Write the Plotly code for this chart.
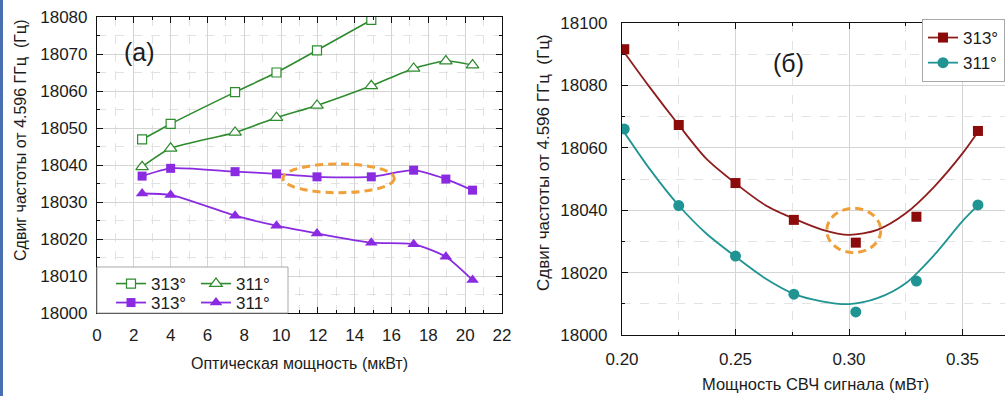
import plotly.graph_objects as go

# ---------------- data: panel (a) ----------------
opt_power = [2.45, 4.0, 7.5, 9.75, 11.95, 14.9, 17.2, 18.95, 20.4]
green_313 = [18046.9, 18051.1, 18059.7, 18065.0, 18071.0, 18079.2]
green_311 = [18039.5, 18044.5, 18048.8, 18052.8, 18056.1, 18061.4, 18066.1, 18068.1, 18067.0]
violet_313 = [18037.0, 18039.1, 18038.2, 18037.6, 18036.8, 18036.8, 18038.6, 18036.2, 18033.2]
violet_311 = [18032.3, 18031.9, 18026.3, 18023.6, 18021.5, 18019.0, 18018.6, 18015.2, 18008.9]

# ---------------- data: panel (б) ----------------
mw_power = [0.201, 0.225, 0.250, 0.2757, 0.303, 0.3297, 0.3568]
red_313 = [18091.6, 18067.3, 18048.7, 18036.9, 18029.6, 18037.9, 18065.4]
teal_311 = [18066.0, 18041.5, 18025.3, 18013.1, 18007.4, 18017.3, 18041.7]

# fitted curves
fit_x = [0.200, 0.212, 0.225, 0.237, 0.250, 0.263, 0.276, 0.288, 0.300,
         0.3125, 0.325, 0.3375, 0.350, 0.357]
fit_313 = [18091.6, 18079.6, 18067.3, 18056.6, 18048.6, 18041.7, 18037.2, 18033.8, 18032.1,
           18033.7, 18039.0, 18047.5, 18058.2, 18065.3]
fit_311 = [18066.0, 18053.4, 18041.5, 18032.6, 18025.1, 18018.2, 18013.1, 18010.8, 18009.9,
           18011.8, 18016.6, 18025.6, 18036.5, 18041.7]

W, H = 1005, 396
FONT = "Liberation Sans, Arial, sans-serif"
GREEN = "#2E8B2E"
VIOLET = "#8A2BE2"
RED = "#8B0A0A"
RED_LINE = "#8E1D1D"
TEAL = "#1F9492"
ORANGE = "#F0A03A"
GRID = "#D4D4D4"
MINOR_GRID = "#E2E2E2"
TEXT = "#1c1c1c"


def px_x(p):
    return p / W


def px_y(p):
    return 1 - p / H


def isolated(values):
    """Interleave gaps so a lines+markers trace shows points only
    while its legend entry still carries a line sample."""
    out = []
    for v in values:
        out.extend([v, None])
    return out


fig = go.Figure()

# panel (a)
fig.add_trace(go.Scatter(
    x=opt_power[:len(green_313)], y=green_313, name="313°", mode="lines+markers",
    line=dict(color=GREEN, width=1.6, shape="spline", smoothing=0.6),
    marker=dict(symbol="square", size=9, color="white", line=dict(color=GREEN, width=1.2)),
    xaxis="x", yaxis="y", legend="legend"))
fig.add_trace(go.Scatter(
    x=opt_power, y=green_311, name="311°", mode="lines+markers",
    line=dict(color=GREEN, width=1.6, shape="spline", smoothing=0.6),
    marker=dict(symbol="triangle-up", size=11, color="white", line=dict(color=GREEN, width=1.2)),
    xaxis="x", yaxis="y", legend="legend"))
fig.add_trace(go.Scatter(
    x=opt_power, y=violet_313, name="313°", mode="lines+markers",
    line=dict(color=VIOLET, width=1.8, shape="spline", smoothing=0.6),
    marker=dict(symbol="square", size=9, color=VIOLET),
    xaxis="x", yaxis="y", legend="legend2"))
fig.add_trace(go.Scatter(
    x=opt_power, y=violet_311, name="311°", mode="lines+markers",
    line=dict(color=VIOLET, width=1.8, shape="spline", smoothing=0.6),
    marker=dict(symbol="triangle-up", size=11, color=VIOLET),
    xaxis="x", yaxis="y", legend="legend2"))

# panel (б)
fig.add_trace(go.Scatter(
    x=fit_x, y=fit_313, mode="lines", showlegend=False,
    line=dict(color=RED_LINE, width=1.8, shape="spline", smoothing=0.8),
    xaxis="x2", yaxis="y2", hoverinfo="skip"))
fig.add_trace(go.Scatter(
    x=fit_x, y=fit_311, mode="lines", showlegend=False,
    line=dict(color=TEAL, width=1.8, shape="spline", smoothing=0.8),
    xaxis="x2", yaxis="y2", hoverinfo="skip"))
fig.add_trace(go.Scatter(
    x=isolated(mw_power), y=isolated(red_313), name="313°", mode="lines+markers",
    connectgaps=False, line=dict(color=RED_LINE, width=1.8),
    marker=dict(symbol="square", size=10, color=RED),
    xaxis="x2", yaxis="y2", legend="legend3"))
fig.add_trace(go.Scatter(
    x=isolated(mw_power), y=isolated(teal_311), name="311°", mode="lines+markers",
    connectgaps=False, line=dict(color=TEAL, width=1.8),
    marker=dict(symbol="circle", size=11, color=TEAL),
    xaxis="x2", yaxis="y2", legend="legend3"))

tick_font = dict(family=FONT, size=17, color=TEXT)


def axis(domain, rng, dtick, minor_dtick, anchor, standoff, fmt, mirror="ticks"):
    return dict(
        domain=domain, range=rng, dtick=dtick, anchor=anchor, tickformat=fmt,
        showline=True, linecolor="#111", linewidth=1.2, mirror=mirror,
        ticks="inside", ticklen=6, tickwidth=1.2, tickcolor="#111",
        showgrid=True, gridcolor=GRID, gridwidth=1, zeroline=False, automargin=False,
        minor=dict(dtick=minor_dtick, ticks="inside", ticklen=3, tickcolor="#111",
                   showgrid=True, gridcolor=MINOR_GRID, griddash="dash"),
        tickfont=tick_font, ticklabelstandoff=standoff,
    )


legend_font = dict(family=FONT, size=17, color=TEXT)

fig.update_layout(
    width=W, height=H,
    margin=dict(l=0, r=0, t=0, b=0, pad=0, autoexpand=False),
    paper_bgcolor="white", plot_bgcolor="white",
    font=dict(family=FONT, color=TEXT),
    xaxis=axis([px_x(97), px_x(502)], [0, 22], 2, 1, "y", 6, "d"),
    yaxis=axis([px_y(313), px_y(17)], [18000, 18080], 10, 5, "x", 5, "d"),
    xaxis2=axis([px_x(622), 1.0], [0.20, 0.20 + 383 / 2270], 0.05, 0.025, "y2", 8, ".2f"),
    yaxis2=axis([px_y(335), px_y(23)], [18000, 18100], 20, 10, "x2", 10, "d", mirror=False),
    legend=dict(orientation="h", x=px_x(111), y=px_y(284), xanchor="left", yanchor="middle",
                bgcolor="rgba(0,0,0,0)", borderwidth=0, font=legend_font,
                entrywidth=40, entrywidthmode="pixels", tracegroupgap=0),
    legend2=dict(orientation="h", x=px_x(111), y=px_y(303), xanchor="left", yanchor="middle",
                 bgcolor="rgba(0,0,0,0)", borderwidth=0, font=legend_font,
                 entrywidth=40, entrywidthmode="pixels", tracegroupgap=0),
    legend3=dict(orientation="v", x=1.0, y=px_y(19), xanchor="right", yanchor="top",
                 bgcolor="white", bordercolor="#A8A8A8", borderwidth=1,
                 font=legend_font, tracegroupgap=0),
    showlegend=True,
)

# dashed ellipses around the points of interest
fig.add_shape(type="circle", xref="x", yref="y", x0=10.1, x1=16.15, y0=18032.5, y1=18040.3,
              line=dict(color=ORANGE, width=3, dash="8px,5px"))
fig.add_shape(type="circle", xref="x2", yref="y2", x0=0.2902, x1=0.3140, y0=18026.4, y1=18040.6,
              line=dict(color=ORANGE, width=3, dash="8px,5px"))

# legend box of panel (a)
fig.add_shape(type="rect", xref="paper", yref="paper",
              x0=px_x(97), x1=px_x(288), y0=px_y(313), y1=px_y(267),
              fillcolor="white", line=dict(color="#A8A8A8", width=1), layer="above")

# blue edge strip
fig.add_shape(type="rect", xref="paper", yref="paper", x0=0, x1=px_x(3), y0=0, y1=1,
              fillcolor="#4A6FB0", line=dict(width=0), layer="above")


def label(text, x, y, size, angle=0):
    fig.add_annotation(text=text, xref="paper", yref="paper", x=px_x(x), y=px_y(y),
                       xanchor="center", yanchor="middle", showarrow=False,
                       textangle=angle, font=dict(family=FONT, size=size, color=TEXT))


# panel labels and axis titles
label("(a)", 139, 52, 25)
label("(б)", 788, 63, 25)
label("Оптическая мощность (мкВт)", 299, 363, 16)
label("Мощность СВЧ сигнала (мВт)", 815, 384, 16.5)
label("Сдвиг частоты от 4.596 ГГц  (Гц)", 20, 141, 16, -90)
label("Сдвиг частоты от 4.596 ГГц  (Гц)", 544, 163, 17, -90)

fig.write_html(
    "out.html",
    post_script="document.documentElement.style.margin='0';"
                "document.body.style.margin='0';"
                "document.body.style.overflow='hidden';",
)
